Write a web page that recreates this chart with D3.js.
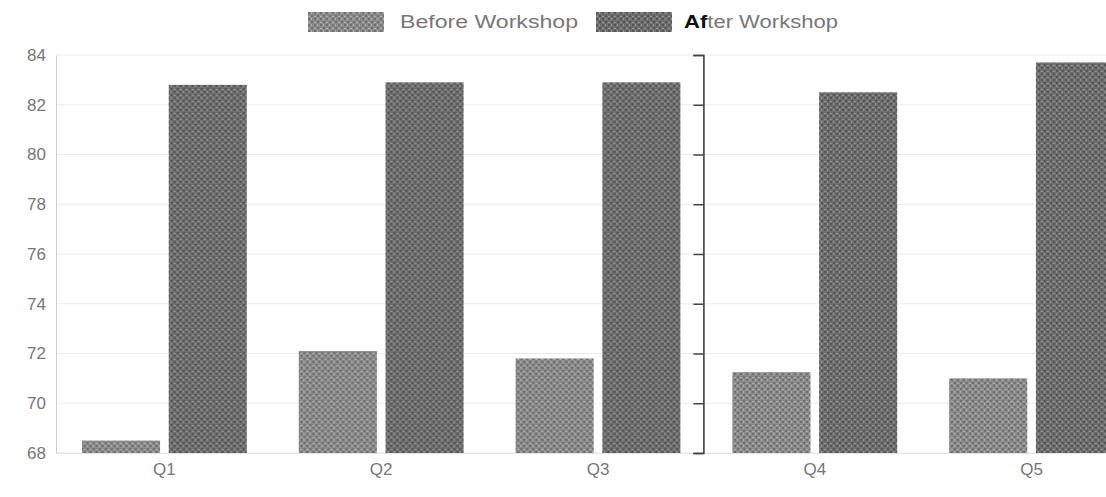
<!DOCTYPE html>
<html>
<head>
<meta charset="utf-8">
<script src="https://cdn.jsdelivr.net/npm/d3@7"></script>
<style>
  body { margin: 0; background: #fff; }
  text { font-family: "Liberation Sans", Arial, sans-serif; }
</style>
</head>
<body>
<div id="container"></div>
<script>
var categories = ["Q1", "Q2", "Q3", "Q4", "Q5"];
var seriesNames = ["Before Workshop", "After Workshop"];
var beforeValues = [68.5, 72.1, 71.8, 71.25, 71.0];
var afterValues = [82.8, 82.9, 82.9, 82.5, 83.7];
var yTicks = [68, 70, 72, 74, 76, 78, 80, 82, 84];

var margin = {top: 55, right: -34, bottom: 44, left: 56},
    width = 1106 - margin.left - margin.right,
    height = 497 - margin.top - margin.bottom;

var svg = d3.select("#container")
  .append("svg")
    .attr("width", 1106)
    .attr("height", 497);

// grainy fills to look like the scanned bars
var defs = svg.append("defs");
function grain(id, base, dark, light) {
  var p = defs.append("pattern")
    .attr("id", id)
    .attr("patternUnits", "userSpaceOnUse")
    .attr("width", 6).attr("height", 6);
  p.append("rect").attr("width", 6).attr("height", 6).attr("fill", base);
  p.append("rect").attr("x", 0).attr("y", 0).attr("width", 2).attr("height", 2).attr("fill", dark);
  p.append("rect").attr("x", 3).attr("y", 3).attr("width", 2).attr("height", 2).attr("fill", dark);
  p.append("rect").attr("x", 3).attr("y", 0).attr("width", 1).attr("height", 2).attr("fill", light);
  p.append("rect").attr("x", 0).attr("y", 4).attr("width", 2).attr("height", 1).attr("fill", light);
}
grain("before", "#8c8c8c", "#6f6f6f", "#b0b0b0");
grain("after", "#707070", "#555555", "#959595");

var g = svg.append("g")
  .attr("transform", "translate(" + margin.left + "," + margin.top + ")");

var x0 = d3.scaleBand()
  .domain(categories)
  .range([0, width])
  .paddingInner(0.2)
  .paddingOuter(0.1);

var x1 = d3.scaleBand()
  .domain(seriesNames)
  .range([0, x0.bandwidth()])
  .paddingInner(0.1)
  .paddingOuter(0.05);

var y = d3.scaleLinear()
  .domain([68, 84])
  .range([height, 0]);

// grid
g.append("g")
  .selectAll("line")
  .data(yTicks)
  .enter().append("line")
    .attr("x1", 0).attr("x2", width)
    .attr("y1", function (d) { return y(d); })
    .attr("y2", function (d) { return y(d); })
    .attr("stroke", "#ececec");

// Y axis
var yAxis = g.append("g")
  .call(d3.axisLeft(y).tickValues(yTicks).tickSize(0).tickPadding(10));
yAxis.select(".domain").attr("stroke", "#d0d0d0");
yAxis.selectAll("text").attr("fill", "#777").style("font-size", "17px");

// X axis
var xAxis = g.append("g")
  .attr("transform", "translate(0," + height + ")")
  .call(d3.axisBottom(x0).tickSize(0).tickPadding(10));
xAxis.select(".domain").attr("stroke", "#e4e4e4");
xAxis.selectAll("text").attr("fill", "#777").style("font-size", "17px");

// Bars
var rows = categories.map(function (c, i) {
  return {cat: c, vals: [beforeValues[i], afterValues[i]]};
});

g.selectAll(".grp")
  .data(rows)
  .enter().append("g")
    .attr("transform", function (d) { return "translate(" + x0(d.cat) + ",0)"; })
  .selectAll("rect")
  .data(function (d) { return d.vals.map(function (v, j) { return {name: seriesNames[j], v: v}; }); })
  .enter().append("rect")
    .attr("x", function (d) { return x1(d.name); })
    .attr("y", function (d) { return y(d.v); })
    .attr("width", x1.bandwidth())
    .attr("height", function (d) { return height - y(d.v); })
    .attr("fill", function (d, j) { return j === 0 ? "url(#before)" : "url(#after)"; });

// scanner fold line between Q3 and Q4
var fold = g.append("g")
  .attr("transform", "translate(" + (x0("Q4") - x0.step() * 0.1 - 3) + ",0)")
  .call(d3.axisRight(y).tickValues(yTicks).tickSize(-10).tickFormat(""));
fold.select(".domain").attr("stroke", "#333").attr("stroke-width", 1.5);
fold.selectAll(".tick line").attr("stroke", "#444").attr("stroke-width", 1.5);

// Legend
var legend = svg.append("g").attr("transform", "translate(308,12)");
var legItems = [
  {name: seriesNames[0], fill: "url(#before)", x: 0, tx: 92, len: 178, bold: ""},
  {name: seriesNames[1], fill: "url(#after)", x: 288, tx: 88, len: 154, bold: "Af"}
];
legItems.forEach(function (d) {
  legend.append("rect")
    .attr("x", d.x).attr("y", 0)
    .attr("width", 76).attr("height", 20)
    .attr("fill", d.fill);
  var t = legend.append("text")
    .attr("x", d.x + d.tx).attr("y", 16)
    .attr("fill", "#777")
    .attr("textLength", d.len)
    .attr("lengthAdjust", "spacingAndGlyphs")
    .style("font-size", "18px");
  if (d.bold) {
    t.append("tspan").attr("fill", "#111").attr("font-weight", "bold").text(d.bold);
    t.append("tspan").text(d.name.slice(d.bold.length));
  } else {
    t.text(d.name);
  }
});
</script>
</body>
</html>
